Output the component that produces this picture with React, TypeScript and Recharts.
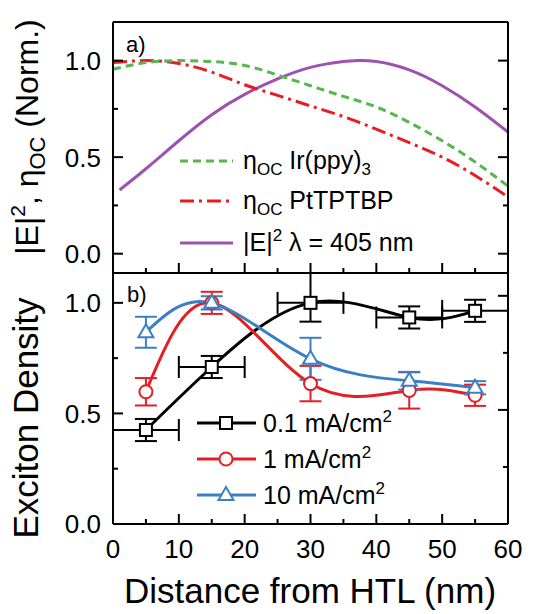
import React from 'react';
import { LineChart, ComposedChart, Line, Scatter, XAxis, YAxis, ErrorBar } from 'recharts';

const FONT = 'Arial, "Liberation Sans", sans-serif';

// panel a): outcoupling efficiency of both emitters and field intensity at 405 nm
const distA = [0, 5, 10, 15, 20, 25, 30, 35, 40, 45, 50, 55, 60];
const etaIrppy = [0.955, 0.99, 1.0, 0.995, 0.975, 0.925, 0.87, 0.815, 0.76, 0.68, 0.585, 0.475, 0.35];
const etaPtTPTBP = [0.99, 1.0, 0.985, 0.94, 0.875, 0.82, 0.765, 0.71, 0.645, 0.575, 0.5, 0.405, 0.295];
const distField = [1, 5, 10, 15, 20, 25, 30, 35, 37, 40, 45, 50, 55, 60];
const fieldE2 = [0.33, 0.44, 0.585, 0.72, 0.825, 0.905, 0.965, 0.995, 1.0, 0.995, 0.952, 0.87, 0.76, 0.63];

// panel b): measured exciton density for three current densities
const densX = [5, 15, 30, 45, 55];
const dens01 = [0.425, 0.71, 1.0, 0.934, 0.964];
const dens01ErrY: [number, number][] = [[0.05, 0.05], [0.05, 0.05], [0.085, 0.135], [0.05, 0.05], [0.05, 0.05]];
const dens01ErrX = [5, 5, 5, 5, 5];
const dens1 = [0.598, 1.0, 0.635, 0.604, 0.582];
const dens1Err = [0.062, 0.05, 0.08, 0.082, 0.048];
const dens10 = [0.867, 1.0, 0.747, 0.648, 0.616];
const dens10Err = [0.07, 0.03, 0.095, 0.04, 0.03];

const xTicks = [0, 5, 10, 15, 20, 25, 30, 35, 40, 45, 50, 55, 60];
const yTicks = [0, 0.25, 0.5, 0.75, 1.0];

const GREEN = '#55b74e';
const RED = '#e51e25';
const PURPLE = '#9c52ae';
const BLUE = '#3b80c3';

const toXY = (xs: number[], ys: number[]) => xs.map((x, i) => ({ x, y: ys[i] }));

const irppyData = toXY(distA, etaIrppy);
const ptData = toXY(distA, etaPtTPTBP);
const fieldData = toXY(distField, fieldE2);

const low = densX.map((x, i) => ({ x, y: dens01[i], ey: dens01ErrY[i], ex: dens01ErrX[i] }));
const mid = densX.map((x, i) => ({ x, y: dens1[i], ey: dens1Err[i] }));
const high = densX.map((x, i) => ({ x, y: dens10[i], ey: dens10Err[i] }));

type Side = 'bottom' | 'top' | 'left' | 'right';

const isMajorX = (v: number) => v % 10 === 0;
const isMajorY = (v: number) => Math.abs(v * 2 - Math.round(v * 2)) < 1e-6;

// inward ticks, labels only on the outer left/bottom axes
function makeTick(side: Side, showLabel: boolean) {
  return (props: any) => {
    const { x, y, payload } = props;
    const v = payload.value as number;
    const horizontal = side === 'top' || side === 'bottom';
    const major = horizontal ? isMajorX(v) : isMajorY(v);
    const len = major ? 10 : 5;
    let x2 = x;
    let y2 = y;
    if (side === 'bottom') y2 = y - len;
    if (side === 'top') y2 = y + len;
    if (side === 'left') x2 = x + len;
    if (side === 'right') x2 = x - len;
    return (
      <g>
        <line x1={x} y1={y} x2={x2} y2={y2} stroke="#000" strokeWidth={2} />
        {showLabel && major && side === 'bottom' && (
          <text x={x} y={y + 34} textAnchor="middle" fontSize={26} fontFamily={FONT} fill="#000">
            {v}
          </text>
        )}
        {showLabel && major && side === 'left' && (
          <text x={x - 12} y={y} dy="0.36em" textAnchor="end" fontSize={26} fontFamily={FONT} fill="#000">
            {v.toFixed(1)}
          </text>
        )}
      </g>
    );
  };
}

const axisLine = { stroke: '#000', strokeWidth: 2 };

function Marker({ kind, cx, cy, color }: { kind: string; cx: number; cy: number; color: string }) {
  if (kind === 'square') {
    return <rect x={cx - 6} y={cy - 6} width={12} height={12} fill="#fff" stroke={color} strokeWidth={2} />;
  }
  if (kind === 'circle') {
    return <circle cx={cx} cy={cy} r={6.5} fill="#fff" stroke={color} strokeWidth={2} />;
  }
  return (
    <polygon
      points={`${cx},${cy - 8} ${cx + 7.5},${cy + 5} ${cx - 7.5},${cy + 5}`}
      fill="#fff"
      stroke={color}
      strokeWidth={2}
      strokeLinejoin="miter"
    />
  );
}

// x axes (bottom + mirrored top) and y axes (left + mirrored right) forming the box
function Frame(labels: boolean, yDomain: [number, number]) {
  return [
    <XAxis
      key="xb"
      xAxisId={0}
      dataKey="x"
      type="number"
      domain={[0, 60]}
      ticks={xTicks}
      interval={0}
      height={1}
      tickSize={0}
      tickMargin={0}
      tickLine={false}
      axisLine={axisLine}
      tick={makeTick('bottom', labels)}
    />,
    <XAxis
      key="xt"
      xAxisId="top"
      orientation="top"
      type="number"
      domain={[0, 60]}
      allowDataOverflow
      ticks={xTicks}
      interval={0}
      height={1}
      tickSize={0}
      tickMargin={0}
      tickLine={false}
      axisLine={axisLine}
      tick={makeTick('top', false)}
    />,
    <YAxis
      key="yl"
      yAxisId={0}
      type="number"
      domain={yDomain}
      ticks={yTicks}
      interval={0}
      width={113}
      tickSize={0}
      tickMargin={0}
      tickLine={false}
      axisLine={axisLine}
      tick={makeTick('left', true)}
    />,
    <YAxis
      key="yr"
      yAxisId="right"
      orientation="right"
      type="number"
      domain={yDomain}
      allowDataOverflow
      ticks={yTicks}
      interval={0}
      width={1}
      tickSize={0}
      tickMargin={0}
      tickLine={false}
      axisLine={axisLine}
      tick={makeTick('right', false)}
    />,
  ];
}

const seriesB = [
  { name: '0.1', data: low, color: '#000', kind: 'square', xerr: true },
  { name: '1', data: mid, color: RED, kind: 'circle', xerr: false },
  { name: '10', data: high, color: BLUE, kind: 'triangle', xerr: false },
];

export default function App() {
  return (
    <div style={{ position: 'absolute', left: 0, top: 0, width: 539, height: 614, background: '#fff', fontFamily: FONT }}>
      {/* a) */}
      <div style={{ position: 'absolute', left: 0, top: 0 }}>
        <LineChart width={539} height={280} margin={{ top: 21, right: 30, bottom: 6, left: 0 }}>
          {Frame(false, [-0.1, 1.2])}
          <Line data={fieldData} dataKey="y" type="natural" stroke={PURPLE} strokeWidth={3} dot={false} activeDot={false} isAnimationActive={false} />
          <Line data={ptData} dataKey="y" type="natural" stroke={RED} strokeWidth={3} strokeDasharray="14 5 3 5" dot={false} activeDot={false} isAnimationActive={false} />
          <Line data={irppyData} dataKey="y" type="natural" stroke={GREEN} strokeWidth={3} strokeDasharray="8 5" dot={false} activeDot={false} isAnimationActive={false} />
        </LineChart>
      </div>

      {/* b) */}
      <div style={{ position: 'absolute', left: 0, top: 0 }}>
        <ComposedChart width={539} height={614} margin={{ top: 272, right: 30, bottom: 89, left: 0 }}>
          {Frame(true, [0, 1.1])}
          {seriesB.map((s) => (
            <Line
              key={'l' + s.name}
              data={s.data}
              dataKey="y"
              type="natural"
              stroke={s.color}
              strokeWidth={3}
              dot={false}
              activeDot={false}
              isAnimationActive={false}
            />
          ))}
          {seriesB.map((s) => (
            <Scatter
              key={'s' + s.name}
              data={s.data}
              dataKey="y"
              isAnimationActive={false}
              shape={(p: any) => <Marker kind={s.kind} cx={p.cx} cy={p.cy} color={s.color} />}
            >
              <ErrorBar dataKey="ey" direction="y" width={11} stroke={s.color} strokeWidth={2} />
              {s.xerr && <ErrorBar dataKey="ex" direction="x" width={11} stroke={s.color} strokeWidth={2} />}
            </Scatter>
          ))}
        </ComposedChart>
      </div>

      <svg
        width={539}
        height={614}
        style={{ position: 'absolute', left: 0, top: 0, pointerEvents: 'none' }}
        fontFamily={FONT}
        fill="#000"
      >
        <text x={126} y={52} fontSize={22}>a)</text>
        <text x={127} y={302} fontSize={22}>b)</text>

        {/* axis titles */}
        <text transform="rotate(-90)" x={-137} y={38} textAnchor="middle" fontSize={32}>
          |E|<tspan fontSize={21} dy={-13}>2</tspan>
          <tspan dy={13}>, η</tspan>
          <tspan fontSize={22} dy={7}>OC</tspan>
          <tspan dy={-7}> (Norm.)</tspan>
        </text>
        <text transform="rotate(-90)" x={-418} y={38} textAnchor="middle" fontSize={35}>
          Exciton Density
        </text>
        <text x={310} y={603} textAnchor="middle" fontSize={35}>
          Distance from HTL (nm)
        </text>

        {/* legend a) */}
        <line x1={180} y1={161} x2={233} y2={161} stroke={GREEN} strokeWidth={3} strokeDasharray="8 5" />
        <text x={243} y={169} fontSize={25}>
          η<tspan fontSize={17} dy={6}>OC</tspan>
          <tspan dy={-6}> Ir(ppy)</tspan>
          <tspan fontSize={17} dy={6}>3</tspan>
        </text>
        <line x1={180} y1={201} x2={233} y2={201} stroke={RED} strokeWidth={3} strokeDasharray="14 5 3 5" />
        <text x={243} y={209} fontSize={25}>
          η<tspan fontSize={17} dy={6}>OC</tspan>
          <tspan dy={-6}> PtTPTBP</tspan>
        </text>
        <line x1={180} y1={243} x2={233} y2={243} stroke={PURPLE} strokeWidth={3} />
        <text x={243} y={251} fontSize={25}>
          |E|<tspan fontSize={17} dy={-10}>2</tspan>
          <tspan dy={10}> λ = 405 nm</tspan>
        </text>

        {/* legend b) */}
        {seriesB.map((s, i) => {
          const y = 423 + i * 36;
          return (
            <g key={s.name}>
              <line x1={197} y1={y} x2={256} y2={y} stroke={s.color} strokeWidth={3} />
              <Marker kind={s.kind} cx={226} cy={y} color={s.color} />
              <text x={263} y={y + 9} fontSize={25}>
                {s.name} mA/cm<tspan fontSize={17} dy={-10}>2</tspan>
              </text>
            </g>
          );
        })}
      </svg>
    </div>
  );
}
